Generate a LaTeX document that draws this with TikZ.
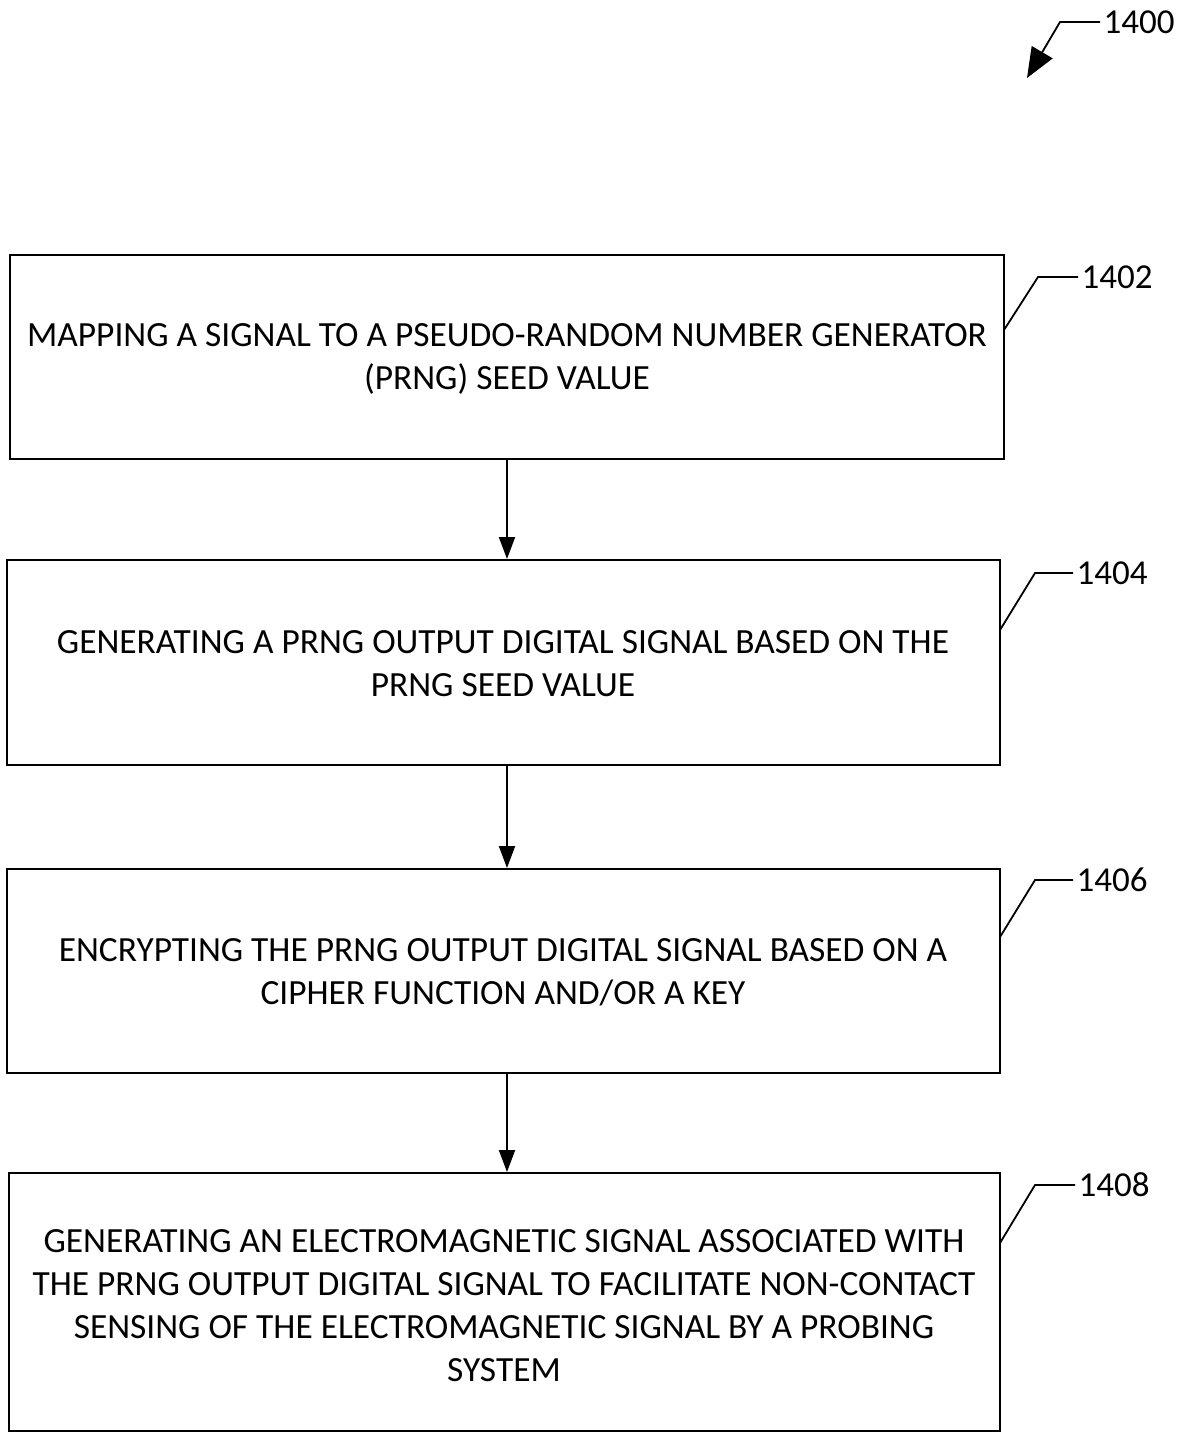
\documentclass[tikz,border=0pt]{standalone}
\usepackage{fontspec}
\setmainfont{Carlito}
\usetikzlibrary{arrows.meta}
\begin{document}
\begin{tikzpicture}[x=1pt,y=-1pt,
  stepbox/.style={draw,line width=2pt,inner sep=0pt},
  boxtext/.style={align=center,font=\fontsize{35.4}{43}\selectfont},
  reflabel/.style={font=\fontsize{35}{40}\selectfont,anchor=west},
  flow/.style={line width=2pt,-{Triangle[length=22pt,width=16pt]}},
  leader/.style={line width=1.8pt}]
\useasboundingbox (0,0) rectangle (1180,1433);
% boxes
\node[stepbox,minimum width=994pt,minimum height=204pt] (b1) at (507,357) {};
\node[stepbox,minimum width=993pt,minimum height=205pt] (b2) at (503.5,662.5) {};
\node[stepbox,minimum width=993pt,minimum height=204pt] (b3) at (503.5,971) {};
\node[stepbox,minimum width=991pt,minimum height=258pt] (b4) at (504.5,1302) {};
% texts
\node[boxtext] (t1) at (507,359) {MAPPING A SIGNAL TO A PSEUDO-RANDOM NUMBER GENERATOR\\(PRNG) SEED VALUE};
\node[boxtext] (t2) at (503,664) {GENERATING A PRNG OUTPUT DIGITAL SIGNAL BASED ON THE\\PRNG SEED VALUE};
\node[boxtext] (t3) at (503,972) {ENCRYPTING THE PRNG OUTPUT DIGITAL SIGNAL BASED ON A\\CIPHER FUNCTION AND/OR A KEY};
\node[boxtext] (t4) at (504,1306) {GENERATING AN ELECTROMAGNETIC SIGNAL ASSOCIATED WITH\\THE PRNG OUTPUT DIGITAL SIGNAL TO FACILITATE NON-CONTACT\\SENSING OF THE ELECTROMAGNETIC SIGNAL BY A PROBING\\SYSTEM};
% arrows
\draw[flow] (b1.south -| 507,0) -- (b2.north -| 507,0);
\draw[flow] (b2.south -| 507,0) -- (b3.north -| 507,0);
\draw[flow] (b3.south -| 507,0) -- (b4.north -| 507,0);
% reference labels
\node[reflabel] (l1400) at (1100,22) {1400};
\node[reflabel] (l1402) at (1078,277) {1402};
\node[reflabel] (l1404) at (1073,573) {1404};
\node[reflabel] (l1406) at (1073,880) {1406};
\node[reflabel] (l1408) at (1075,1185) {1408};
\coordinate (c1402) at (1004,330);
\coordinate (c1404) at (1000,630);
\coordinate (c1406) at (1000,937);
\coordinate (c1408) at (1000,1243);
\draw[leader] (c1402) -- (1038,277) -- (l1402.west);
\draw[leader] (c1404) -- (1035,573) -- (l1404.west);
\draw[leader] (c1406) -- (1035,880) -- (l1406.west);
\draw[leader] (c1408) -- (1035,1185) -- (l1408.west);
\coordinate (c1400) at (1027,78);
\draw[leader,-{Triangle[length=30pt,width=24pt]}] (l1400.west) -- (1060,22) -- (c1400);
\end{tikzpicture}
\end{document}
